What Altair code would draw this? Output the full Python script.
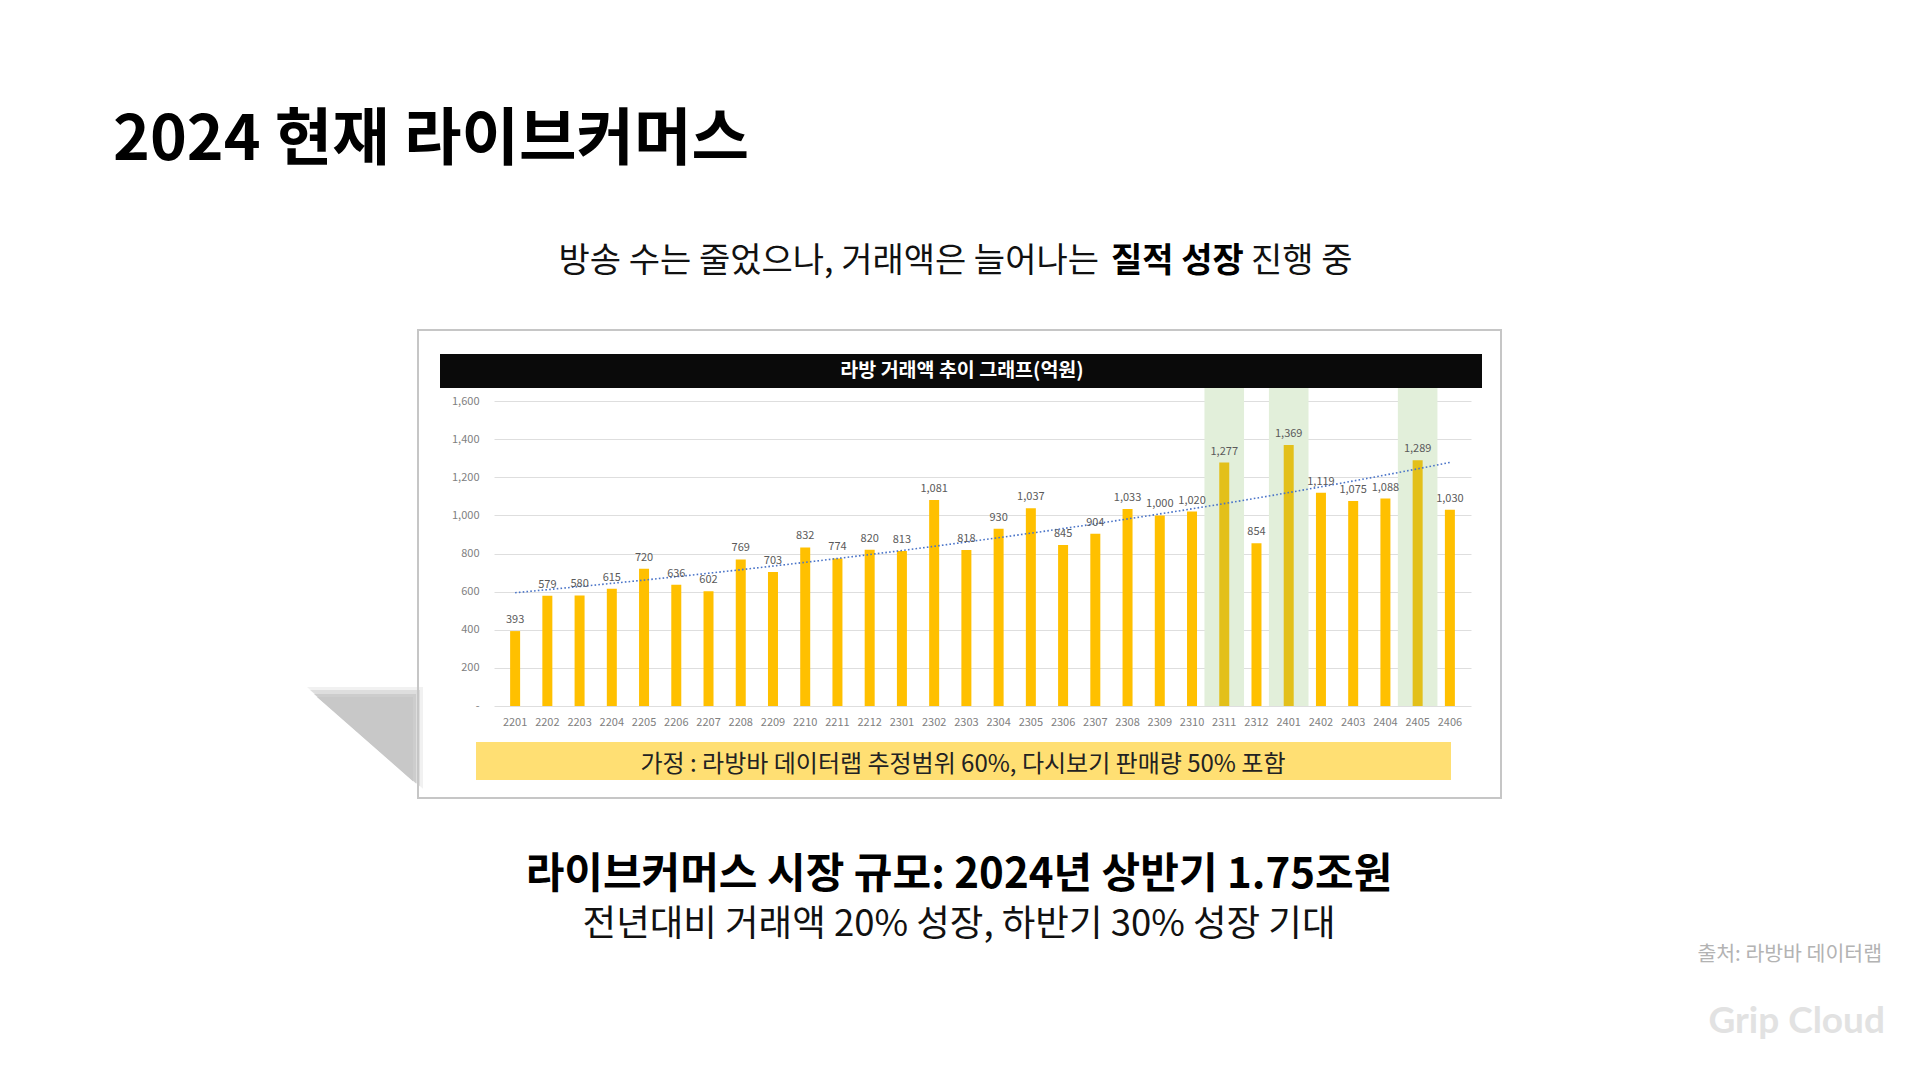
import altair as alt
import pandas as pd

# ---------------- data ----------------
months = ["2201", "2202", "2203", "2204", "2205", "2206", "2207", "2208", "2209", "2210",
          "2211", "2212", "2301", "2302", "2303", "2304", "2305", "2306", "2307", "2308",
          "2309", "2310", "2311", "2312", "2401", "2402", "2403", "2404", "2405", "2406"]
values = [393, 579, 580, 615, 720, 636, 602, 769, 703, 832,
          774, 820, 813, 1081, 818, 930, 1037, 845, 904, 1033,
          1000, 1020, 1277, 854, 1369, 1119, 1075, 1088, 1289, 1030]
highlight_months = ["2311", "2401", "2405"]

title_text = "2024 현재 라이브커머스"
subtitle_parts = ["방송 수는 줄었으나, 거래액은 늘어나는", "질적 성장", "진행 중"]
chart_title = "라방 거래액 추이 그래프(억원)"
banner_text = "가정 : 라방바 데이터랩 추정범위 60%, 다시보기 판매량 50% 포함"
bottom_main = "라이브커머스 시장 규모: 2024년 상반기 1.75조원"
bottom_sub = "전년대비 거래액 20% 성장, 하반기 30% 성장 기대"
source_text = "출처: 라방바 데이터랩"
brand_text = "Grip Cloud"

df = pd.DataFrame({"month": months, "value": values})
df["idx"] = range(len(df))
df["hl"] = df["month"].isin(highlight_months)
hl_df = df[df["hl"]].copy()

# ---------------- layout ----------------
OX, OY = 494, 401          # page position of plot origin
W, H = 977, 305            # plot area
KR = "Noto Sans CJK KR"


def px(x):
    return x - OX


def py(y):
    return y - OY


one = alt.Data(values=[{}])
xscale = alt.Scale(domain=[-0.5, len(months) - 0.5], nice=False, zero=False)


def rect(x1, y1, x2, y2, **kw):
    return alt.Chart(one).mark_rect(**kw).encode(
        x=alt.value(px(x1)), x2=alt.value(px(x2)),
        y=alt.value(py(y1)), y2=alt.value(py(y2)))


def text(t, x, y, **kw):
    return alt.Chart(one).mark_text(text=t, **kw).encode(
        x=alt.value(px(x)), y=alt.value(py(y)))


# soft shadow at the lower-left of the frame (triangle, blurred by stacking)
R = 0.877
TRI = f"M -1 -{R} L 1 -{R} L 1 {R} Z"


def shadow_tri(d, opacity):
    w = 106 + 2 * d
    cx = 418 + d - w / 2
    cy = 692 - d + R * w / 2
    return alt.Chart(one).mark_point(
        shape=TRI, filled=True, size=w ** 2, color="#c8c8c8",
        opacity=opacity, strokeWidth=0).encode(
        x=alt.value(px(cx)), y=alt.value(py(cy)))


shadows = [shadow_tri(5, 0.25), shadow_tri(2, 0.45), shadow_tri(-2, 0.8), shadow_tri(-5, 1.0)]

frame = rect(418, 330, 1501, 798, fillOpacity=0, stroke="#c6c6c6", strokeWidth=2)
header = rect(440, 354, 1482, 388, fill="#0a0a0a")
header_txt = text(chart_title, 962, 371, font=KR, fontSize=19.5, fontWeight="bold",
                  color="white", align="center", baseline="middle")

# highlight bands
bands = alt.Chart(hl_df).transform_calculate(
    x0="datum.idx - 0.614", x1="datum.idx + 0.614"
).mark_rect(color="#e2efda").encode(
    x=alt.X("x0:Q", scale=xscale, axis=None),
    x2="x1:Q",
    y=alt.value(py(388)), y2=alt.value(H))

# bars with y axis
bars = alt.Chart(df).mark_bar(orient="vertical", size=10).encode(
    x=alt.X("idx:Q", scale=xscale, axis=None),
    y=alt.Y("value:Q", scale=alt.Scale(domain=[0, 1600], nice=False),
            axis=alt.Axis(title=None, tickCount=8, grid=True, gridColor="#dedede",
                          gridWidth=1, domain=False, ticks=False, labelPadding=15,
                          labelFont=KR, labelFontSize=11, labelColor="#808080",
                          labelExpr="datum.value === 0 ? '-' : datum.label")),
    color=alt.condition("datum.hl", alt.value("#e3c01a"), alt.value("#ffc000")))

trend = alt.Chart(df).transform_regression("idx", "value", method="exp").mark_line(
    color="#4a74c8", strokeWidth=1.6, strokeDash=[1.6, 2.2]).encode(
    x=alt.X("idx:Q", scale=xscale, axis=None),
    y=alt.Y("value:Q"))

labels = alt.Chart(df).mark_text(font=KR, fontSize=11, color="#5a5a5a",
                                 baseline="bottom", dy=-6).encode(
    x=alt.X("idx:Q", scale=xscale, axis=None),
    y=alt.Y("value:Q"),
    text=alt.Text("value:Q", format=","))

xlabels = alt.Chart(df).mark_text(font=KR, fontSize=11, color="#808080",
                                  baseline="middle").encode(
    x=alt.X("idx:Q", scale=xscale, axis=None),
    y=alt.value(py(723)),
    text="month:N")

banner = rect(476, 742, 1451, 780, fill="#ffdf73")
banner_txt = text(banner_text, 963, 765, font=KR, fontSize=24, color="#222222",
                  align="center", baseline="middle")

title = text(title_text, 113, 160, font=KR, fontSize=62.5, fontWeight="bold",
             color="#000000", align="left", baseline="alphabetic")
sub1 = text(subtitle_parts[0], 1099, 262, font=KR, fontSize=34, color="#111111",
            align="right", baseline="middle")
sub2 = text(subtitle_parts[1], 1111, 262, font=KR, fontSize=34, fontWeight="bold",
            color="#000000", align="left", baseline="middle")
sub3 = text(subtitle_parts[2], 1251, 262, font=KR, fontSize=34, color="#111111",
            align="left", baseline="middle")

bot1 = text(bottom_main, 959, 875, font=KR, fontSize=42, fontWeight="bold",
            color="#000000", align="center", baseline="middle")
bot2 = text(bottom_sub, 959, 925, font=KR, fontSize=36.5, color="#111111",
            align="center", baseline="middle")
src = text(source_text, 1882, 955, font=KR, fontSize=20.5, color="#b3b3b3",
           align="right", baseline="middle")
brand = text(brand_text, 1885, 1033, font="Lato", fontSize=37, fontWeight="bold",
             color="#e2e2e2", align="right", baseline="alphabetic")

chart = alt.layer(
    *shadows, frame, header, header_txt,
    bands, bars, trend, labels, xlabels,
    banner, banner_txt,
    title, sub1, sub2, sub3, bot1, bot2, src, brand
).properties(
    width=W, height=H,
    autosize=alt.AutoSizeParams(type="none"),
    padding={"left": OX - 8, "top": OY - 8,
             "right": 1904 - (OX - 8) - W, "bottom": 1064 - (OY - 8) - H},
    background="white"
).configure_view(strokeWidth=0)

chart.save("out.html", embed_options={"renderer": "svg", "actions": False})
